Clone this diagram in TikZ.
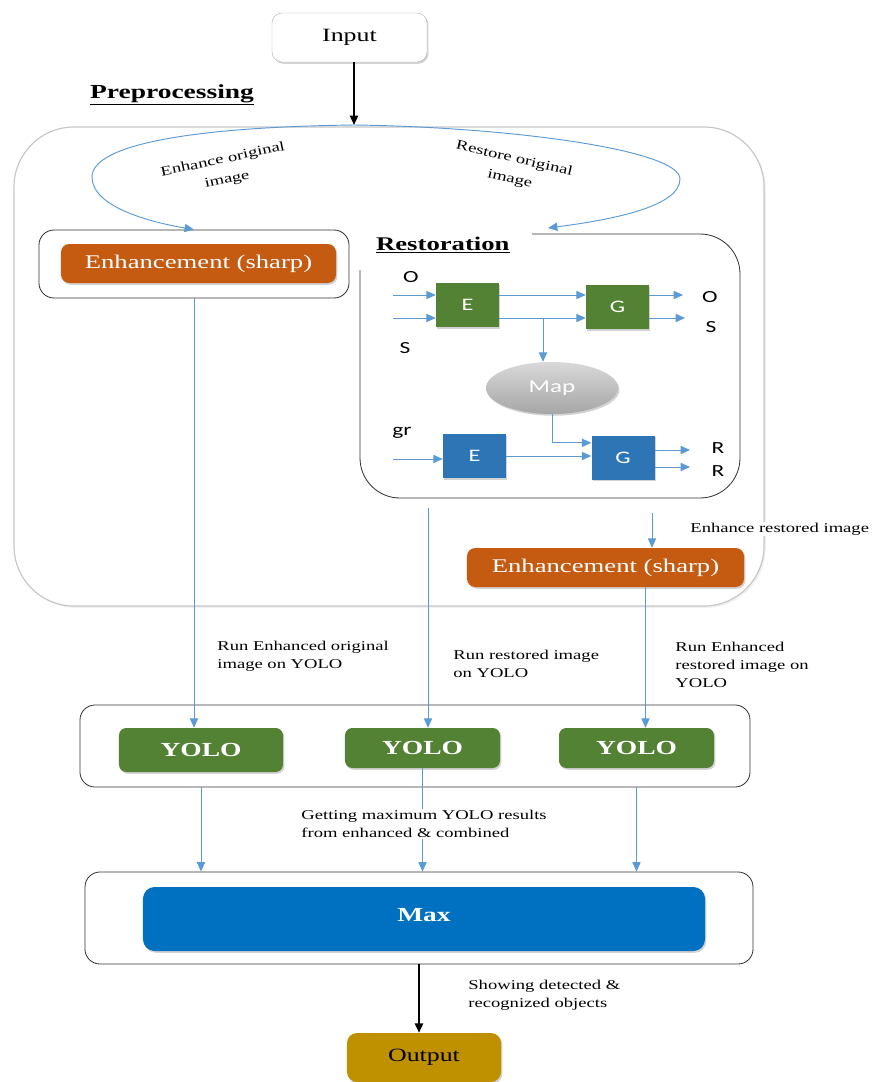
\documentclass[tikz,border=0pt]{standalone}
\usepackage{fontspec}
\setmainfont{Liberation Serif}[FakeStretch=1.38]
\newfontfamily\labelsans{Carlito}[FakeStretch=1.38]
\usetikzlibrary{shapes.geometric,arrows.meta,shadows}
\definecolor{lineblue}{HTML}{5B9BD5}
\definecolor{sharporange}{HTML}{C55A11}
\definecolor{netgreen}{HTML}{548235}
\definecolor{netblue}{HTML}{2E75B6}
\definecolor{maxblue}{HTML}{0070C0}
\definecolor{outgold}{HTML}{BF9000}
\tikzset{
  softshadow/.style={drop shadow={shadow xshift=1.2pt,shadow yshift=-1.5pt,opacity=0.35}},
  flow/.style={color=lineblue,line width=0.8pt,-{Triangle[length=8pt,width=7pt]}},
  bigarrow/.style={line width=1.6pt,-{Triangle[length=8pt,width=7pt]}},
  framebox/.style={draw=black!80,line width=0.7pt,rounded corners=0.45cm,inner sep=0pt},
  sharpbox/.style={fill=sharporange,text=white,rounded corners=0.25cm,softshadow,minimum width=8.25cm,minimum height=1.17cm,inner sep=0pt,font=\fontsize{16.5}{18}\selectfont},
  yolobox/.style={fill=netgreen,text=white,rounded corners=0.22cm,softshadow,minimum width=4.65cm,minimum height=1.2cm,inner sep=0pt,font=\fontsize{17}{19}\selectfont\bfseries},
  netbox/.style={minimum width=1.89cm,minimum height=1.32cm,inner sep=0pt,text=white,softshadow,font=\labelsans\fontsize{15}{16}\selectfont},
  letterlabel/.style={font=\labelsans\fontsize{14.5}{16}\selectfont,inner sep=0pt},
  notetext/.style={align=left,inner sep=1pt,font=\fontsize{11.5}{15.5}\selectfont},
  arclabel/.style={align=center,inner sep=1pt,font=\fontsize{11.5}{17.5}\selectfont},
}
\begin{document}
\begin{tikzpicture}[x=0.03cm,y=-0.03cm]
  \useasboundingbox (0,0) rectangle (881,1082);
  % preprocessing
  \node[draw=black!22,line width=1pt,fill=white,rounded corners=1.8cm,minimum width=22.5cm,minimum height=14.37cm,
    drop shadow={shadow xshift=1.5pt,shadow yshift=-1.5pt,opacity=0.12}] (prebox) at (389,366.5) {};
  \node[draw=black!30,fill=white,rounded corners=0.3cm,minimum width=4.65cm,minimum height=1.47cm,softshadow,
    font=\fontsize{16}{18}\selectfont] (input) at (349.5,37.5) {Input};
  \node[font=\fontsize{17}{19}\selectfont\bfseries] (pretitle) at (172,95) {\underline{Preprocessing}};
  \coordinate (split) at (354,125);
  \draw[bigarrow] (input.south -| split) -- (split);

  \node[framebox,minimum width=9.3cm,minimum height=2.04cm] (enhout) at (194,264) {};
  \node[sharpbox] (enh1) at (198.5,263.5) {Enhancement (sharp)};

  \coordinate (restin) at (548,228);
  \draw[flow] (split) .. controls (190,127) and (92,145) .. (92,177)
    .. controls (92,207) and (150,222) .. (enhout.north);
  \draw[flow] (split) .. controls (510,127) and (680,150) .. (680,179)
    .. controls (680,207) and (610,220) .. (restin);
  \node[arclabel,rotate=12] (enhlab) at (225,170) {Enhance original\\image};
  \node[arclabel,rotate=-13] (restlab) at (512,169) {Restore original\\image};

  % restoration
  \draw[black!80,line width=0.7pt,rounded corners=1.2cm] (532,234) -- (740,234) -- (740,498) -- (360,498) -- (360,270);
  \node[font=\fontsize{16.5}{18}\selectfont\bfseries,anchor=west] (resttitle) at (372,245) {\underline{Restoration}};
  \node[netbox,fill=netgreen] (gE) at (467.5,305) {E};
  \node[netbox,fill=netgreen] (gG) at (617.5,307) {G};
  \node[netbox,fill=netblue] (bE) at (474.5,456) {E};
  \node[netbox,fill=netblue] (bG) at (623,457.5) {G};
  \node[ellipse,minimum width=3.96cm,minimum height=1.56cm,top color=gray!30,bottom color=gray!70,softshadow,
    text=white,font=\labelsans\fontsize{15.5}{17}\selectfont] (map) at (552,388) {Map};
  \node[letterlabel] (lO) at (411,277) {O};
  \node[letterlabel] (lS) at (405,348) {S};
  \node[letterlabel] (rO) at (710,297) {O};
  \node[letterlabel] (rS) at (711,327) {S};
  \node[letterlabel] (lgr) at (402,433) {gr};
  \node[letterlabel] (rR1) at (718,448) {R};
  \node[letterlabel] (rR2) at (718,471) {R};
  \coordinate (inO) at (393,295);
  \coordinate (inS) at (393,318);
  \coordinate (ingr) at (393,459);
  \coordinate (outO) at (683,295);
  \coordinate (outS) at (685,318);
  \coordinate (outR1) at (690,450);
  \coordinate (outR2) at (690,467);
  \coordinate (branch) at (543,318);
  \draw[flow] (inO) -- (inO -| gE.west);
  \draw[flow] (inS) -- (inS -| gE.west);
  \draw[flow] (inO -| gE.east) -- (inO -| gG.west);
  \draw[flow] (inS -| gE.east) -- (inS -| gG.west);
  \draw[flow] (branch) -- (branch |- map.north);
  \draw[flow] (outO -| gG.east) -- (outO);
  \draw[flow] (outS -| gG.east) -- (outS);
  \draw[flow] (map.south) |- ([yshift=0.44cm]bG.west);
  \draw[flow] (ingr) -- (ingr -| bE.west);
  \draw[flow] (bE.east) -- (bE.east -| bG.west);
  \draw[flow] (outR1 -| bG.east) -- (outR1);
  \draw[flow] (outR2 -| bG.east) -- (outR2);

  \node[sharpbox,minimum width=8.31cm] (enh2) at (605.5,567.5) {Enhancement (sharp)};
  \coordinate (restout2) at (652,513);
  \draw[flow] (restout2) -- (restout2 |- enh2.north);
  \node[notetext,fill=white,anchor=west] (enh2lab) at (689,529) {Enhance restored image};
  \coordinate (restout1) at (428,508);

  % yolo
  \node[framebox,minimum width=20.1cm,minimum height=2.46cm] (yolorow) at (415,746) {};
  \node[yolobox,minimum width=4.92cm,minimum height=1.32cm] (yolo1) at (201,750) {YOLO};
  \node[yolobox] (yolo2) at (422.5,748) {YOLO};
  \node[yolobox] (yolo3) at (636.5,748) {YOLO};
  \draw[flow] (enhout.south) -- (enhout.south |- yolo1.north);
  \draw[flow] (restout1) -- (restout1 |- yolo2.north);
  \draw[flow] ([xshift=1.2cm]enh2.south) -- ([xshift=1.2cm]enh2.south |- yolo3.north);
  \node[notetext,anchor=west] (runlab1) at (216,656.5) {Run Enhanced original\\image on YOLO};
  \node[notetext,anchor=west] (runlab2) at (452,664) {Run restored image\\on YOLO};
  \node[notetext,anchor=west] (runlab3) at (674,665) {Run Enhanced\\restored image on\\YOLO};

  % max
  \node[framebox,minimum width=20.04cm,minimum height=2.76cm] (maxrow) at (419,918) {};
  \node[fill=maxblue,text=white,rounded corners=0.35cm,softshadow,minimum width=16.86cm,minimum height=1.92cm,
    inner sep=0pt,font=\fontsize{17}{19}\selectfont\bfseries] (maxbox) at (424,919) {\raisebox{0.27cm}{Max}};
  \draw[flow] (yolo1 |- yolorow.south) -- (yolo1 |- maxrow.north);
  \draw[flow] (yolo2.south) -- (yolo2 |- maxrow.north);
  \draw[flow] (yolo3 |- yolorow.south) -- (yolo3 |- maxrow.north);
  \node[notetext,fill=white,anchor=west] (maxlab) at (300,824) {Getting maximum YOLO results\\from enhanced \& combined};

  \node[fill=outgold,rounded corners=0.3cm,softshadow,minimum width=4.62cm,minimum height=1.47cm,inner sep=0pt,
    font=\fontsize{16}{18}\selectfont] (output) at (424,1057.5) {Output};
  \draw[bigarrow] (maxrow.south) -- (maxrow.south |- output.north);
  \node[notetext,anchor=west] (showlab) at (467,995.5) {Showing detected \&\\recognized objects};
\end{tikzpicture}
\end{document}
